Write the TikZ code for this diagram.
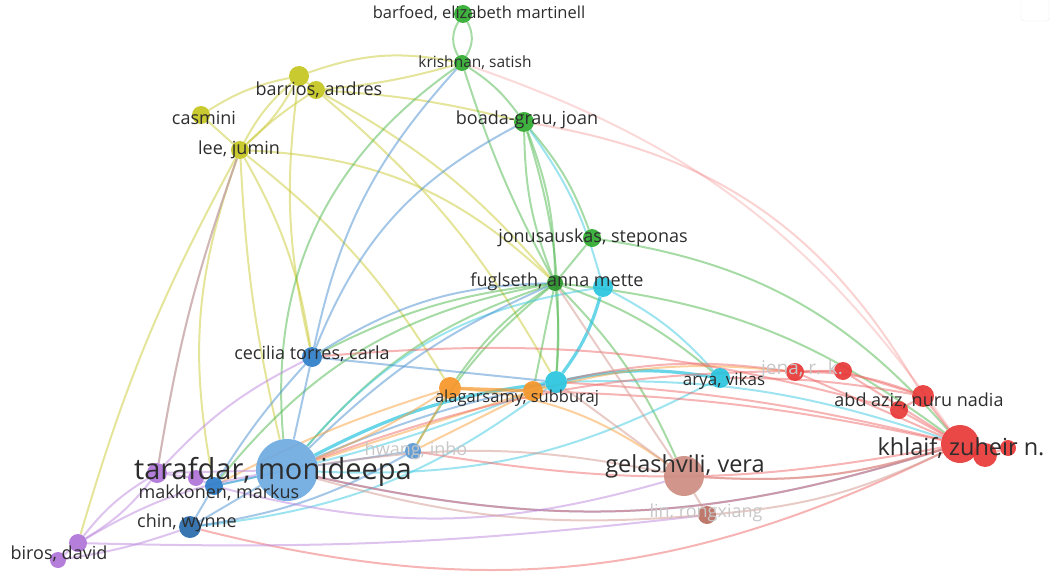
\documentclass[tikz,border=0pt]{standalone}
\usepackage{fontspec}
\setmainfont{Open Sans}
\usetikzlibrary{backgrounds}
\definecolor{cgreen}{RGB}{46,170,46}
\definecolor{cyel}{RGB}{196,196,30}
\definecolor{ccyan}{RGB}{40,196,222}
\definecolor{corange}{RGB}{246,150,40}
\definecolor{cblue}{RGB}{45,125,200}
\definecolor{clblue}{RGB}{110,170,225}
\definecolor{cpurple}{RGB}{175,115,215}
\definecolor{cred}{RGB}{232,55,55}
\definecolor{cbrown}{RGB}{205,140,130}
\definecolor{cdbrown}{RGB}{185,110,95}
\definecolor{ctext}{RGB}{45,45,45}
\newcommand{\fsz}[1]{\fontsize{#1}{#1}\selectfont}
\begin{document}
\begin{tikzpicture}[x=1pt,y=-1pt,
  nd/.style 2 args={circle,inner sep=0pt,minimum size=#1,fill=#2,fill opacity=0.92},
  lbl/.style={text=ctext,font=\fsz{18},inner sep=0pt},
  faint/.style={text=black!22,font=\fsz{18},inner sep=0pt},
  e/.style={draw=#1,line width=2pt,opacity=0.5},
  ew/.style={draw=#1,line width=3.2pt,opacity=0.7},
]
\useasboundingbox (0,0) rectangle (1051,572);
\draw[black!8,rounded corners=3pt] (1021,-4) rectangle (1049,21);
% nodes
\node[nd={18pt}{cgreen}] (barf) at (463,14) {};
\node[nd={16pt}{cgreen}] (kris) at (462,63) {};
\node[nd={20pt}{cgreen}] (boada) at (524,122) {};
\node[nd={18pt}{cgreen}] (jonu) at (592,238) {};
\node[nd={16pt}{cgreen!85!black}] (fugl) at (555,283) {};
\node[nd={20pt}{ccyan}] (cyF) at (603,287) {};
\node[nd={22pt}{ccyan}] (subb) at (556,382) {};
\node[nd={20pt}{ccyan}] (arya) at (720,378) {};
\node[nd={22pt}{corange}] (ala1) at (450,388) {};
\node[nd={20pt}{corange}] (ala2) at (533,391) {};
\node[nd={20pt}{cyel}] (barr1) at (299,76) {};
\node[nd={18pt}{cyel}] (barr2) at (316,90) {};
\node[nd={18pt}{cyel}] (casm) at (201,115) {};
\node[nd={18pt}{cyel}] (lee) at (240,150) {};
\node[nd={20pt}{cblue}] (ceci) at (312,357) {};
\node[nd={62pt}{clblue}] (tara) at (287,470) {};
\node[nd={16pt}{cblue!80!white}] (hwang) at (413,451) {};
\node[nd={18pt}{cblue}] (makk) at (214,486) {};
\node[nd={22pt}{cblue!85!black}] (chin) at (190,527) {};
\node[nd={20pt}{cpurple}] (pur1) at (157,473) {};
\node[nd={16pt}{cpurple}] (pur2) at (196,478) {};
\node[nd={18pt}{cpurple}] (biros1) at (78,543) {};
\node[nd={16pt}{cpurple}] (biros2) at (58,560) {};
\node[nd={18pt}{cred}] (jena1) at (795,372) {};
\node[nd={18pt}{cred}] (jena2) at (843,371) {};
\node[nd={22pt}{cred}] (abd1) at (923,396) {};
\node[nd={18pt}{cred}] (abd2) at (899,410) {};
\node[nd={38pt}{cred}] (khl1) at (960,444) {};
\node[nd={24pt}{cred}] (khl2) at (985,455) {};
\node[nd={16pt}{cred}] (khl3) at (1008,448) {};
\node[nd={40pt}{cbrown}] (gela) at (684,476) {};
\node[nd={18pt}{cdbrown}] (lin) at (707,515) {};
\begin{pgfonlayer}{background}
% yellow
\begin{scope}[every path/.style={e=cyel!90!white}]
\draw (lee) -- (casm);
\draw (lee) to[bend left=10] (barr1);
\draw (lee) to[bend right=10] (barr1);
\draw (lee) to[bend left=5] (barr2);
\draw (casm) to[bend left=10] (barr1);
\draw (barr1) -- (barr2);
\draw (barr1) to[bend left=15] (kris);
\draw (barr2) to[bend right=5] (kris);
\draw (barr2) to[bend left=5] (boada);
\draw (barr2) to[bend left=10] (fugl);
\draw (barr1) to[bend right=10] (ceci);
\draw (lee) to[bend right=5] (tara);
\draw (lee) to[bend left=10] (ceci);
\draw (lee) to[bend right=15] (makk);
\draw (lee) to[bend left=20] (fugl);
\draw (lee) to[bend left=10] (ala1);
\draw (lee) to[bend right=5] (pur1);
\draw (barr2) to[bend left=10] (subb);
\draw (lee) to[bend right=6] (biros1);
\end{scope}
% green
\begin{scope}[every path/.style={e=cgreen!85!white}]
\draw (barf) to[bend left=30] (kris);
\draw (barf) to[bend right=30] (kris);
\draw (kris) to[bend left=10] (boada);
\draw (kris) to[bend right=5] (fugl);
\draw (boada) to[bend right=10] (fugl);
\draw (boada) to[bend left=10] (fugl);
\draw (boada) to[bend left=10] (jonu);
\draw (jonu) -- (fugl);
\draw (fugl) to[bend right=15] (tara);
\draw (fugl) to[bend right=10] (ceci);
\draw (fugl) to[bend right=10] (ala1);
\draw (fugl) -- (ala2);
\draw (fugl) to[bend left=5] (subb);
\draw (fugl) to[bend left=10] (arya);
\draw (fugl) to[bend left=15] (khl1);
\draw (fugl) to[bend right=10] (hwang);
\draw (fugl) to[bend left=10] (gela);
\draw (kris) to[bend right=30] (tara);
\draw (jonu) to[bend left=20] (khl1);
\draw (fugl) to[bend right=20] (makk);
\draw (boada) to[bend left=10] (subb);
\end{scope}
% cyan
\begin{scope}[every path/.style={e=ccyan!90!white}]
\draw[ew=ccyan] (cyF) to[bend left=10] (subb);
\draw (cyF) to[bend right=10] (boada);
\draw[ew=ccyan] (subb) to[bend right=10] (tara);
\draw[ew=ccyan] (subb) to[bend left=10] (arya);
\draw (subb) to[bend left=10] (khl1);
\draw (subb) to[bend left=15] (chin);
\draw (cyF) to[bend left=10] (arya);
\draw (cyF) to[bend right=20] (tara);
\draw (subb) to[bend left=5] (makk);
\draw (arya) to[bend left=15] (tara);
\end{scope}
% blue
\begin{scope}[every path/.style={e=cblue!85!white}]
\draw (tara) -- (ceci);
\draw (tara) -- (makk);
\draw (tara) -- (chin);
\draw (tara) -- (hwang);
\draw (ceci) to[bend right=5] (makk);
\draw (chin) -- (makk);
\draw (ceci) to[bend left=15] (kris);
\draw (ceci) to[bend left=15] (fugl);
\draw (tara) to[bend right=15] (khl1);
\draw (tara) to[bend left=5] (subb);
\draw (ceci) to[bend left=20] (boada);
\draw (tara) to[bend left=10] (fugl);
\draw (ceci) -- (subb);
\draw (chin) to[bend right=10] (hwang);
\end{scope}
% orange
\begin{scope}[every path/.style={e=corange!90!white}]
\draw[ew=corange] (ala1) -- (ala2);
\draw (ala1) to[bend left=5] (tara);
\draw (ala2) -- (tara);
\draw (ala1) -- (hwang);
\draw (ala2) -- (subb);
\draw (ala2) to[bend left=10] (jena1);
\draw (ala2) -- (hwang);
\draw (ala1) to[bend right=5] (makk);
\draw (ala1) to[bend left=15] (gela);
\end{scope}
% red
\begin{scope}[every path/.style={e=cred!75!white}]
\draw (jena1) -- (jena2);
\draw (jena1) -- (khl1);
\draw (jena1) to[bend left=10] (abd1);
\draw (jena2) -- (khl1);
\draw (jena2) -- (abd1);
\draw (abd1) -- (khl1);
\draw (abd2) -- (khl1);
\draw (abd1) -- (abd2);
\draw (khl1) -- (khl2);
\draw (khl2) -- (khl3);
\draw (jena1) to[bend right=10] (subb);
\draw (khl1) to[bend right=5] (subb);
\draw (khl1) to[bend left=15] (tara);
\draw (khl1) to[bend left=10] (gela);
\draw[opacity=0.3] (boada) to[bend left=25] (abd1);
\draw[opacity=0.25] (kris) to[bend left=18] (khl1);
\draw (khl1) to[bend left=10] (hwang);
\draw (jena2) to[bend right=10] (tara);
\draw (abd2) to[bend right=10] (ceci);
\draw (khl1) to[bend right=5] (ala2);
\draw (abd1) to[bend right=5] (arya);
\draw (khl1) to[bend left=20] (chin);
\end{scope}
% purple
\begin{scope}[every path/.style={e=cpurple!85!white}]
\draw (pur1) -- (pur2);
\draw (pur1) -- (tara);
\draw (pur1) to[bend right=10] (biros1);
\draw (pur1) to[bend left=10] (biros1);
\draw (biros1) -- (biros2);
\draw (biros2) to[bend right=5] (chin);
\draw (biros1) to[bend left=10] (tara);
\draw (pur2) -- (makk);
\draw (pur1) to[bend left=5] (lee);
\draw (biros1) to[bend right=4] (lin);
\draw (pur1) to[bend left=10] (ceci);
\draw (makk) to[bend right=15] (gela);
\end{scope}
% brown
\begin{scope}[every path/.style={e=cbrown!90!white}]
\draw (gela) -- (lin);
\draw (gela) to[bend right=10] (tara);
\draw (gela) to[bend right=10] (khl1);
\draw (lin) to[bend right=10] (khl1);
\draw (gela) -- (fugl);
\draw (gela) -- (subb);
\draw (lin) to[bend left=10] (tara);
\end{scope}
\end{pgfonlayer}
% labels
\node[lbl,font=\fsz{16.5}] (lbarf) at (479,13) {barfoed, elizabeth martinell};
\node[lbl,font=\fsz{15.5}] (lkris) at (475,63) {krishnan, satish};
\node[lbl] (lboada) at (527,120) {boada-grau, joan};
\node[lbl] (ljonu) at (593,238) {jonusauskas, steponas};
\node[lbl] (lfugl) at (557,282) {fuglseth, anna mette};
\node[lbl,font=\fsz{17}] (larya) at (724,381) {arya, vikas};
\node[lbl,font=\fsz{16.5}] (lala) at (517,398) {alagarsamy, subburaj};
\node[lbl] (lbarr) at (319,90) {barrios, andres};
\node[lbl] (lcasm) at (204,118) {casmini};
\node[lbl] (llee) at (239,150) {lee, jumin};
\node[lbl] (lceci) at (312,354) {cecilia torres, carla};
\node[lbl,font=\fsz{29}] (ltara) at (273,472) {tarafdar, monideepa};
\node[faint] (lhwang) at (416,451) {hwang, inho};
\node[lbl] (lmakk) at (219,493) {makkonen, markus};
\node[lbl] (lchin) at (187,523) {chin, wynne};
\node[lbl] (lbiros) at (59,554) {biros, david};
\node[faint,font=\fsz{19}] (ljena) at (802,370) {jena, r. k.};
\node[lbl] (labd) at (919,401) {abd aziz, nuru nadia};
\node[lbl,font=\fsz{23.5}] (lkhl) at (961,448) {khlaif, zuheir n.};
\node[lbl,font=\fsz{23.5}] (lgela) at (685,466) {gelashvili, vera};
\node[faint] (llin) at (706,513) {lin, rongxiang};
\end{tikzpicture}
\end{document}
